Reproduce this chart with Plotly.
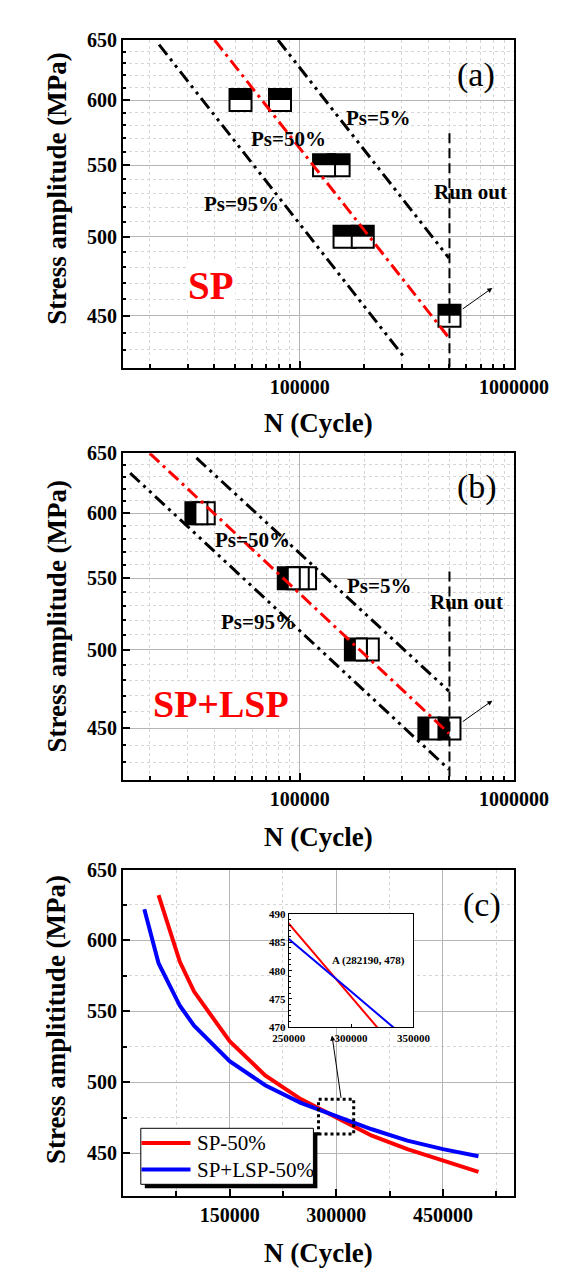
import numpy as np
import plotly.graph_objects as go

# ---------------- data ----------------
# (a) SP specimens: cycles to failure at each stress amplitude (MPa)
sp_cycles = [53000, 81000, 152000, 130000, 162000, 197000, 500000]
sp_stress = [600, 600, 550, 550, 500, 500, 450]

# (b) SP+LSP specimens
lsp_cycles = [35700, 33000, 106000, 98000, 89000, 208000, 183000, 403000, 500000]
lsp_stress = [600, 600, 550, 550, 550, 500, 500, 450, 450]

# P-S-N lines (end points) for the survival probabilities
sp_p50_cycles = [40100, 497000]
sp_p50_stress = [650, 437]
sp_p5_cycles = [79300, 497000]
sp_p5_stress = [650, 486]
sp_p95_cycles = [22100, 311000]
sp_p95_stress = [646, 425]

lsp_p50_cycles = [20000, 497000]
lsp_p50_stress = [650, 447]
lsp_p5_cycles = [33000, 497000]
lsp_p5_stress = [646, 473]
lsp_p95_cycles = [16200, 497000]
lsp_p95_stress = [633, 426]

# run-out limit
runout_cycles = [500000, 500000]
sp_runout_stress = [574, 420]
lsp_runout_stress = [555, 420]

# (c) median (Ps = 50%) S-N curves
sp50_cycles = [50000, 80000, 100000, 150000, 200000, 250000, 300000, 350000, 400000, 450000, 500000]
sp50_stress = [632, 585, 564, 529, 505, 488.3, 475.4, 462.5, 453, 445, 437]
lsp50_cycles = [30000, 50000, 80000, 100000, 150000, 200000, 250000, 300000, 350000, 400000, 450000, 500000]
lsp50_stress = [622, 584, 554, 540, 515, 498, 485.6, 476.3, 467, 459, 453, 448]
cross_label = "A (282190, 478)"

# axis ranges and tick values
log_x_range = [15000, 1e6]
log_y_range = [420, 650]
log_x_major = [1e5, 1e6]
log_x_major_text = ["100000", "1000000"]
log_x_minor = [k * 10 ** e for e in (4, 5) for k in range(2, 10)]
stress_major = [450, 500, 550, 600, 650]
stress_minor_log = [v for v in range(430, 650, 10) if v % 50]
lin_x_major = [150000, 300000, 450000]
lin_x_minor = [75000, 225000, 375000, 525000]
lin_y_minor = [475, 525, 575, 625]
inset_x_range = [250000, 350000]
inset_y_range = [470, 490]
inset_x_ticks = [250000, 300000, 350000]
inset_y_ticks = [470, 475, 480, 485, 490]

# ---------------- page geometry ----------------
FIG_W, FIG_H = 566, 1274
L, R, T, B = 123, 52, 40, 78
PW, PH = FIG_W - L - R, FIG_H - T - B
FONT = "Liberation Serif"


def px(x):
    return (x - L) / PW


def py(y):
    return 1 - (y - T) / PH


dom_a = [py(367.5), 1.0]
dom_b = [py(780), py(453.3)]
dom_c = [0.0, py(869.5)]

DASHDOT = "13px,5px,3px,5px"
DASHDOTDOT = "13px,5px,3px,5px,3px,5px"
RUNOUT_DASH = "10px,5px"

fig = go.Figure()


def add_psn(xa, ya, pts_x, pts_y, p50, p5, p95, run_y, name):
    fig.add_trace(go.Scatter(x=pts_x, y=pts_y, mode="markers", name=name,
                             marker=dict(size=22, opacity=0),
                             xaxis=xa, yaxis=ya, showlegend=False))
    for (cx, cy), col, dash in ((p95, "black", DASHDOTDOT),
                                (p5, "black", DASHDOTDOT),
                                (p50, "red", DASHDOT)):
        fig.add_trace(go.Scatter(x=cx, y=cy, mode="lines",
                                 line=dict(color=col, width=3, dash=dash),
                                 xaxis=xa, yaxis=ya, showlegend=False,
                                 hoverinfo="skip"))
    fig.add_trace(go.Scatter(x=runout_cycles, y=run_y, mode="lines",
                             line=dict(color="black", width=2, dash=RUNOUT_DASH),
                             xaxis=xa, yaxis=ya, showlegend=False,
                             hoverinfo="skip"))


add_psn("x", "y", sp_cycles, sp_stress,
        (sp_p50_cycles, sp_p50_stress), (sp_p5_cycles, sp_p5_stress),
        (sp_p95_cycles, sp_p95_stress), sp_runout_stress, "SP")
add_psn("x2", "y2", lsp_cycles, lsp_stress,
        (lsp_p50_cycles, lsp_p50_stress), (lsp_p5_cycles, lsp_p5_stress),
        (lsp_p95_cycles, lsp_p95_stress), lsp_runout_stress, "SP+LSP")

# (c) curves and inset
for xa, ya, w in (("x3", "y3", 4), ("x4", "y4", 2)):
    fig.add_trace(go.Scatter(x=sp50_cycles, y=sp50_stress, mode="lines",
                             name="SP-50%", line=dict(color="#ff0000", width=w),
                             xaxis=xa, yaxis=ya, showlegend=False))
    fig.add_trace(go.Scatter(x=lsp50_cycles, y=lsp50_stress, mode="lines",
                             name="SP+LSP-50%", line=dict(color="#0000ff", width=w),
                             xaxis=xa, yaxis=ya, showlegend=False))

# ---------------- specimen symbols (half-filled squares) ----------------
# a half side of 11 px expressed as a multiplicative step on the log axes
HALF = 11
x_px_per_dec = PW / (np.log10(log_x_range[1]) - np.log10(log_x_range[0]))
fx = 10 ** (HALF / x_px_per_dec)
shapes = []


def specimen_shapes(xs, ys, xref, yref, dom, half):
    y_px_per_dec = (dom[1] - dom[0]) * PH / (np.log10(log_y_range[1]) - np.log10(log_y_range[0]))
    fy = 10 ** (HALF / y_px_per_dec)
    for x, y in zip(xs, ys):
        base = dict(type="rect", xref=xref, yref=yref, layer="between")
        shapes.append(dict(base, x0=x / fx, x1=x * fx, y0=y / fy, y1=y * fy,
                           fillcolor="white", line=dict(color="black", width=2)))
        if half == "top":
            shapes.append(dict(base, x0=x / fx, x1=x * fx, y0=y, y1=y * fy,
                               fillcolor="black", line=dict(width=0)))
        else:
            shapes.append(dict(base, x0=x / fx, x1=x, y0=y / fy, y1=y * fy,
                               fillcolor="black", line=dict(width=0)))


specimen_shapes(sp_cycles, sp_stress, "x", "y", dom_a, "top")
specimen_shapes(lsp_cycles, lsp_stress, "x2", "y2", dom_b, "left")

# zoom window around the crossing point in (c)
shapes.append(dict(type="rect", xref="x3", yref="y3", x0=275000, x1=324500,
                   y0=463.6, y1=488.1, line=dict(color="black", width=3, dash="dot"),
                   fillcolor="rgba(0,0,0,0)", layer="above"))
# inset background
shapes.append(dict(type="rect", xref="x4", yref="y4",
                   x0=inset_x_range[0], x1=inset_x_range[1],
                   y0=inset_y_range[0], y1=inset_y_range[1],
                   fillcolor="white", line=dict(width=0), layer="between"))

# legend of (c): shadow, frame and keys
lg_x0, lg_x1, lg_y0, lg_y1 = 140.8, 313.4, 1128.3, 1184.3
shapes.append(dict(type="rect", xref="paper", yref="paper",
                   x0=px(lg_x0 + 4), x1=px(lg_x1 + 4), y0=py(lg_y1 + 4), y1=py(lg_y0 + 4),
                   fillcolor="black", line=dict(width=0), layer="above"))
shapes.append(dict(type="rect", xref="paper", yref="paper",
                   x0=px(lg_x0), x1=px(lg_x1), y0=py(lg_y1), y1=py(lg_y0),
                   fillcolor="white", line=dict(color="black", width=1), layer="above"))
legend_rows = [("SP-50%", "#ff0000", 1143.0), ("SP+LSP-50%", "#0000ff", 1169.5)]
for label, col, yy in legend_rows:
    shapes.append(dict(type="line", xref="paper", yref="paper",
                       x0=px(141.5), x1=px(190.5), y0=py(yy), y1=py(yy),
                       line=dict(color=col, width=4), layer="above"))

# ---------------- annotations ----------------
ann = []


def txt(text, x, y, xref, yref, size, color="black", bold=True, bg=None, **kw):
    d = dict(text=text, x=x, y=y, xref=xref, yref=yref, showarrow=False,
             xanchor="center", yanchor="middle",
             font=dict(family=FONT, size=size, color=color,
                       weight="bold" if bold else "normal"))
    if bg:
        d["bgcolor"] = bg
    d.update(kw)
    ann.append(d)


# panel (a)
txt("Ps=5%", 0.653, 0.763, "x domain", "y domain", 21)
txt("Ps=50%", 0.424, 0.697, "x domain", "y domain", 21)
txt("Ps=95%", 0.302, 0.498, "x domain", "y domain", 21)
txt("Run out", 0.888, 0.536, "x domain", "y domain", 21)
txt("(a)", 0.904, 0.894, "x domain", "y domain", 34, bold=False)
txt("SP", 0.226, 0.251, "x domain", "y domain", 39, color="#ff0000", bg="white")
# panel (b)
txt("Ps=50%", 0.332, 0.734, "x2 domain", "y2 domain", 21)
txt("Ps=5%", 0.655, 0.594, "x2 domain", "y2 domain", 21)
txt("Ps=95%", 0.346, 0.484, "x2 domain", "y2 domain", 21)
txt("Run out", 0.878, 0.545, "x2 domain", "y2 domain", 21)
txt("(b)", 0.906, 0.898, "x2 domain", "y2 domain", 34, bold=False)
txt("SP+LSP", 0.251, 0.233, "x2 domain", "y2 domain", 38, color="#ff0000", bg="white")
# panel (c)
txt("(c)", 0.918, 0.891, "x3 domain", "y3 domain", 34, bold=False)
txt(cross_label, 283300, 481.8, "x4", "y4", 11, xanchor="left")
for label, col, yy in legend_rows:
    txt(label, px(195), py(yy), "paper", "paper", 21, bold=False, xanchor="left")

# run-out arrows (log axes take log10 positions)
for xr, yr in (("x", "y"), ("x2", "y2")):
    ann.append(dict(x=np.log10(792000), y=np.log10(467), xref=xr, yref=yr,
                    ax=-31, ay=22, showarrow=True, arrowhead=2, arrowsize=1,
                    arrowwidth=1, arrowcolor="black", text=""))
# arrow from the zoom window to the inset
ann.append(dict(x=294000, y=533, xref="x3", yref="y3", ax=307000, ay=488.1,
                axref="x3", ayref="y3", showarrow=True, arrowhead=2,
                arrowsize=1, arrowwidth=1, arrowcolor="black", text=""))

# axis titles
for yc, title in ((189, "Stress amplitude (MPa)"), (616.7, "Stress amplitude (MPa)"),
                  (1019.2, "Stress amplititude (MPa)")):
    txt(title, px(56.7), py(yc), "paper", "paper", 27, textangle=-90)
for yc in (423.3, 836.7, 1253.3):
    txt("N (Cycle)", px(318), py(yc), "paper", "paper", 27)

# ---------------- axes ----------------
tick_font = dict(family=FONT, size=20, color="black", weight="bold")
axis_common = dict(showline=True, linecolor="black", linewidth=2, mirror=True,
                   ticks="inside", tickcolor="black", tickwidth=2, ticklen=7,
                   tickfont=tick_font, showgrid=True, gridcolor="#b5b5b5",
                   gridwidth=1, zeroline=False)


def minor(vals, length=4):
    return dict(tickvals=vals, ticks="inside", ticklen=length, tickwidth=1.5,
                tickcolor="black", showgrid=True, gridcolor="#d6d6d6",
                griddash="dot", gridwidth=1)


def log_x(anchor):
    return dict(axis_common, type="log", range=list(np.log10(log_x_range)),
                anchor=anchor, domain=[0, 1], tickvals=log_x_major,
                ticktext=log_x_major_text, minor=minor(log_x_minor))


def log_y(dom, anchor):
    return dict(axis_common, type="log", range=list(np.log10(log_y_range)),
                anchor=anchor, domain=dom, tickvals=stress_major,
                minor=minor(stress_minor_log, 3))


inset_font = dict(family=FONT, size=11, color="black", weight="bold")
fig.update_layout(
    width=FIG_W, height=FIG_H,
    margin=dict(l=L, r=R, t=T, b=B),
    paper_bgcolor="white", plot_bgcolor="white",
    showlegend=False,
    xaxis=log_x("y"), yaxis=log_y(dom_a, "x"),
    xaxis2=log_x("y2"), yaxis2=log_y(dom_b, "x2"),
    xaxis3=dict(axis_common, range=[0, 550000], anchor="y3", domain=[0, 1],
                tickvals=lin_x_major, tickformat="d", minor=minor(lin_x_minor, 5)),
    yaxis3=dict(axis_common, range=[420, 650], anchor="x3", domain=dom_c,
                tickvals=stress_major, minor=minor(lin_y_minor, 4)),
    xaxis4=dict(range=inset_x_range, anchor="y4",
                domain=[px(288.8), px(413.4)], showline=True, mirror=True,
                linecolor="black", linewidth=1, ticks="inside", ticklen=3,
                tickcolor="black", tickvals=inset_x_ticks, tickformat="d",
                tickfont=inset_font, showgrid=False, zeroline=False),
    yaxis4=dict(range=inset_y_range, anchor="x4", domain=[py(1027.3), py(914)],
                showline=True, mirror=True, linecolor="black", linewidth=1,
                ticks="inside", ticklen=3, tickcolor="black",
                tickvals=inset_y_ticks, tickfont=inset_font, showgrid=False,
                zeroline=False,
                minor=dict(dtick=1, ticks="inside", ticklen=2, tickcolor="black")),
    shapes=shapes,
    annotations=ann,
)

fig.write_html("out.html")
